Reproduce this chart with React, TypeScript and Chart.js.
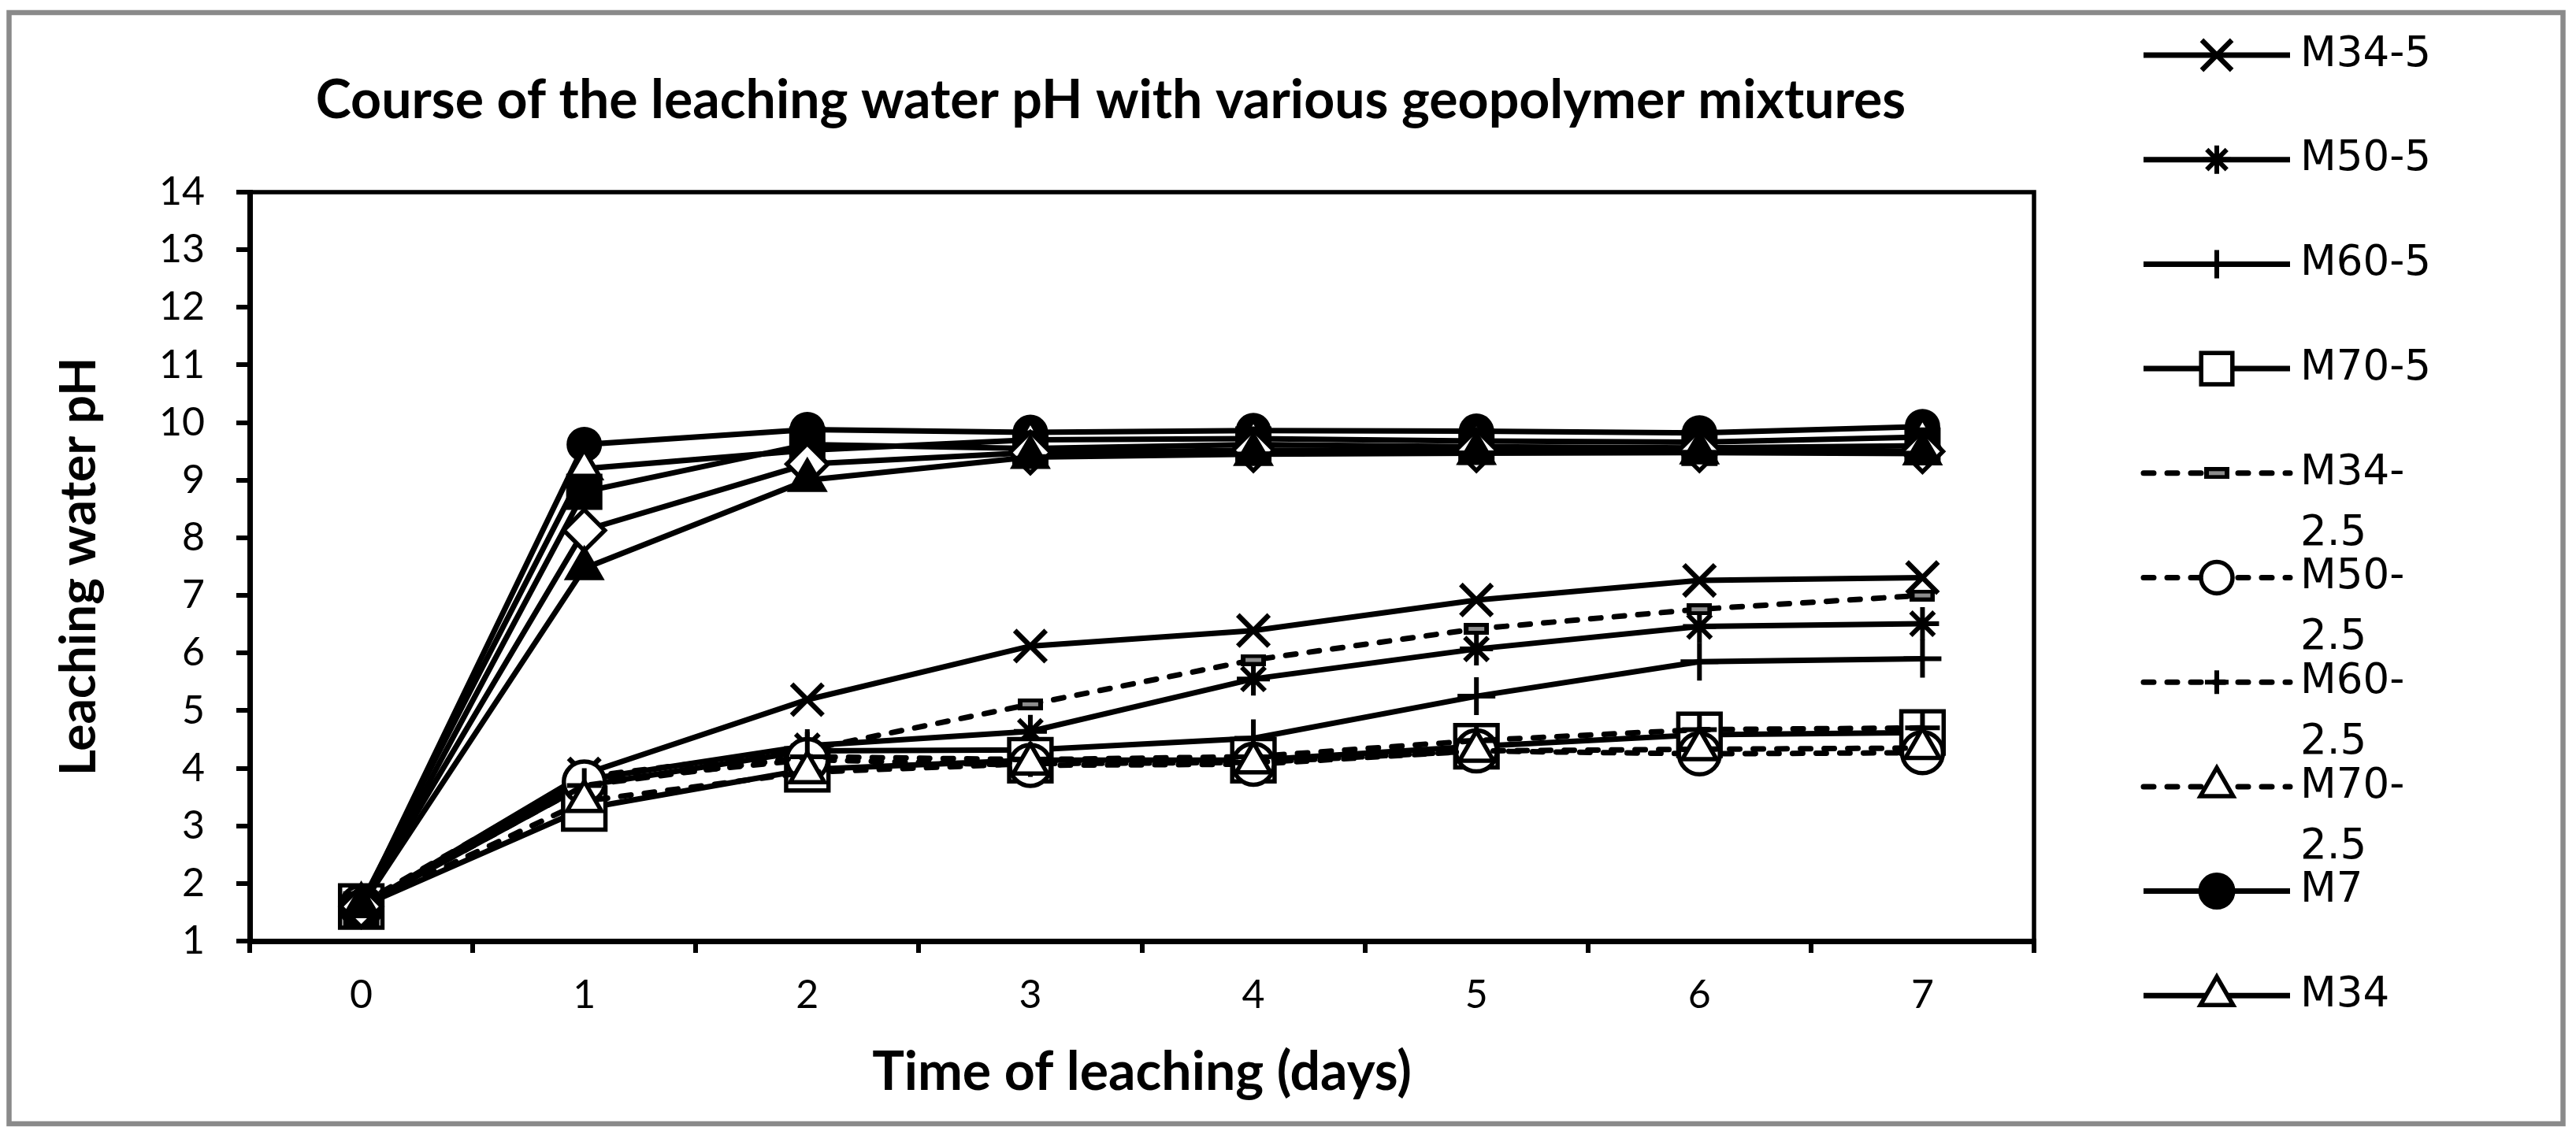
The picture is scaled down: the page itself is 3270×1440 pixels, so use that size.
import React, { useEffect, useRef } from 'react';
import { Chart, registerables } from 'chart.js';
import { drawPoint } from 'chart.js/helpers';

Chart.register(...registerables);

// ---------- data ----------
const days = ['0', '1', '2', '3', '4', '5', '6', '7'];

const m34_5 = [1.6, 3.9, 5.19, 6.12, 6.39, 6.92, 7.26, 7.31];
const m50_5 = [1.6, 3.8, 4.39, 4.64, 5.55, 6.07, 6.46, 6.51];
const m60_5 = [1.6, 3.7, 4.3, 4.32, 4.52, 5.25, 5.85, 5.9];
const m70_5 = [1.6, 3.3, 3.98, 4.14, 4.14, 4.38, 4.58, 4.62];
const m34_25 = [1.65, 3.85, 4.32, 5.11, 5.88, 6.42, 6.76, 7.0];
const m50_25 = [1.6, 3.76, 4.15, 4.05, 4.07, 4.3, 4.25, 4.27];
const m60_25 = [1.6, 3.7, 4.2, 4.15, 4.2, 4.48, 4.67, 4.7];
const m70_25 = [1.6, 3.43, 3.93, 4.08, 4.1, 4.3, 4.33, 4.35];
const m7 = [1.6, 9.62, 9.88, 9.83, 9.86, 9.85, 9.82, 9.93];
const m34 = [1.65, 9.2, 9.52, 9.7, 9.72, 9.68, 9.66, 9.75];
const m50 = [1.55, 8.8, 9.62, 9.55, 9.62, 9.58, 9.56, 9.6];
const m60 = [1.6, 8.13, 9.28, 9.48, 9.52, 9.52, 9.52, 9.5];
const m70 = [1.6, 7.47, 9.0, 9.4, 9.45, 9.47, 9.48, 9.46];

const seriesLabels = [
  'M34-5', 'M50-5', 'M60-5', 'M70-5',
  'M34-2.5', 'M50-2.5', 'M60-2.5', 'M70-2.5',
  'M7', 'M34', 'M50', 'M60', 'M70',
];
const seriesData = [m34_5, m50_5, m60_5, m70_5, m34_25, m50_25, m60_25, m70_25, m7, m34, m50, m60, m70];
const legendCount = 10; // the reference legend is cut after M34

const titleText = 'Course of the leaching water pH with various geopolymer mixtures';
const xTitle = 'Time of leaching (days)';
const yTitle = 'Leaching water pH';
const yMin = 1;
const yMax = 14;

// ---------- styles ----------
const W = 3270;
const H = 1440;
const LATO = 'Lato, "Open Sans", sans-serif';
const LEG_FONT = '"DejaVu Sans", Verdana, sans-serif';

type Marker = { style: string; r: number; lr: number; bw: number; fill: string; dashed: boolean };
const markers: Marker[] = [
  { style: 'crossRot', r: 28, lr: 27, bw: 6.5, fill: '#000', dashed: false },
  { style: 'star', r: 21, lr: 18, bw: 6, fill: '#000', dashed: false },
  { style: 'cross', r: 24, lr: 18, bw: 6, fill: '#000', dashed: false },
  { style: 'rect', r: 38, lr: 28, bw: 5.5, fill: '#fff', dashed: false },
  { style: 'dashImg', r: 16, lr: 16, bw: 5, fill: '#000', dashed: true },
  { style: 'circle', r: 26, lr: 20, bw: 5.5, fill: '#fff', dashed: true },
  { style: 'cross', r: 22, lr: 15, bw: 6, fill: '#000', dashed: true },
  { style: 'triangle', r: 25, lr: 24, bw: 5.5, fill: '#fff', dashed: true },
  { style: 'circle', r: 20, lr: 21, bw: 5, fill: '#000', dashed: false },
  { style: 'triangle', r: 24, lr: 24, bw: 5.5, fill: '#fff', dashed: false },
  { style: 'rect', r: 29, lr: 28, bw: 5, fill: '#000', dashed: false },
  { style: 'rectRot', r: 26, lr: 26, bw: 5.5, fill: '#fff', dashed: false },
  { style: 'triangle', r: 25, lr: 25, bw: 5, fill: '#000', dashed: false },
];

export default function App() {
  const ref = useRef<HTMLCanvasElement>(null);

  useEffect(() => {
    const canvas = ref.current;
    if (!canvas) return;

    // "dash" marker as in Excel: black bar with grey core
    const dashImg = document.createElement('canvas');
    dashImg.width = 32;
    dashImg.height = 15;
    const dctx = dashImg.getContext('2d')!;
    dctx.fillStyle = '#000';
    dctx.fillRect(0, 0, 32, 15);
    dctx.fillStyle = '#8c8c8c';
    dctx.fillRect(6, 5, 20, 5);

    const n = seriesLabels.length;
    const datasets = seriesLabels.map((label, i) => {
      const m = markers[i];
      return {
        label,
        data: seriesData[i],
        order: n - i, // later series drawn on top, as in the source
        borderColor: '#000',
        borderWidth: 7,
        borderDash: m.dashed ? [13, 17] : [],
        borderCapStyle: m.dashed ? 'round' : 'butt',
        pointStyle: m.style === 'dashImg' ? dashImg : m.style,
        pointRadius: m.r,
        pointHoverRadius: m.r,
        pointBackgroundColor: m.fill,
        pointBorderColor: '#000',
        pointBorderWidth: m.bw,
        legendRadius: m.lr,
        fill: false,
        tension: 0,
      };
    });

    const framePlugin = {
      id: 'frame',
      beforeDraw(chart: any) {
        const ctx = chart.ctx;
        ctx.save();
        ctx.fillStyle = '#fff';
        ctx.fillRect(0, 0, W, H);
        ctx.strokeStyle = '#8a8a8a';
        ctx.lineWidth = 6.5;
        ctx.strokeRect(11.5, 16, 3242, 1411);
        ctx.restore();
      },
      beforeDatasetsDraw(chart: any) {
        const { ctx, chartArea: a } = chart;
        ctx.save();
        ctx.strokeStyle = '#000';
        ctx.lineWidth = 5.5;
        ctx.strokeRect(a.left, a.top, a.right - a.left, a.bottom - a.top);
        ctx.restore();
      },
    };

    const textPlugin = {
      id: 'excelText',
      afterDraw(chart: any) {
        const ctx = chart.ctx;
        ctx.save();
        // title
        ctx.fillStyle = '#000';
        ctx.font = `bold 68px ${LATO}`;
        ctx.textAlign = 'center';
        ctx.textBaseline = 'alphabetic';
        ctx.fillText(titleText, 1410, 150);

        // legend
        const x0 = 2721;
        const x1 = 2907;
        const xm = 2814;
        const xt = 2920;
        const maxTextW = 200;
        ctx.font = `53px ${LEG_FONT}`;
        chart.data.datasets.slice(0, legendCount).forEach((ds: any, i: number) => {
          const y = 70 + i * 132.7;
          ctx.strokeStyle = '#000';
          ctx.lineWidth = ds.borderWidth;
          ctx.setLineDash(ds.borderDash);
          ctx.lineCap = ds.borderCapStyle;
          ctx.beginPath();
          ctx.moveTo(x0, y);
          ctx.lineTo(x1, y);
          ctx.stroke();
          ctx.setLineDash([]);
          ctx.lineCap = 'butt';

          ctx.fillStyle = ds.pointBackgroundColor;
          ctx.strokeStyle = ds.pointBorderColor;
          ctx.lineWidth = ds.pointBorderWidth;
          drawPoint(ctx, { pointStyle: ds.pointStyle, radius: ds.legendRadius, borderWidth: ds.pointBorderWidth, rotation: 0 } as any, xm, y);

          // wrap like Excel when too wide: break after hyphen
          let lines: string[] = [ds.label];
          if (ctx.measureText(ds.label).width > maxTextW && ds.label.includes('-')) {
            const k = ds.label.indexOf('-') + 1;
            lines = [ds.label.slice(0, k), ds.label.slice(k)];
          }
          ctx.fillStyle = '#000';
          ctx.textAlign = 'left';
          ctx.textBaseline = 'middle';
          lines.forEach((t, k) => ctx.fillText(t, xt, y + k * 77));
        });
        ctx.restore();
      },
    };

    const chart = new Chart(canvas, {
      type: 'line',
      data: { labels: days, datasets: datasets as any },
      options: {
        responsive: false,
        animation: false,
        devicePixelRatio: 1,
        events: [],
        layout: { padding: { left: 0, right: 688, top: 244, bottom: 0 } },
        plugins: {
          legend: { display: false },
          title: { display: false },
          tooltip: { enabled: false },
        },
        scales: {
          x: {
            type: 'category',
            offset: true,
            grid: {
              display: true,
              offset: true,
              drawOnChartArea: false,
              drawTicks: true,
              tickLength: 15,
              tickWidth: 6,
              tickColor: '#000',
              lineWidth: 6,
              color: '#000',
            },
            border: { display: true, color: '#000', width: 7 },
            ticks: {
              color: '#000',
              font: { family: LATO, size: 50 },
              padding: 24,
              maxRotation: 0,
              autoSkip: false,
            },
            title: {
              display: true,
              text: xTitle,
              color: '#000',
              font: { family: LATO, size: 68, weight: 'bold' },
              padding: { top: 0, bottom: 37 },
            },
            afterFit: (s: any) => {
              s.height = 245;
            },
          },
          y: {
            min: yMin,
            max: yMax,
            grid: {
              display: true,
              drawOnChartArea: false,
              drawTicks: true,
              tickLength: 17,
              tickWidth: 6,
              tickColor: '#000',
              lineWidth: 6,
              color: '#000',
            },
            border: { display: true, color: '#000', width: 7 },
            ticks: {
              stepSize: 1,
              color: '#000',
              font: { family: LATO, size: 50 },
              padding: 40,
            },
            title: {
              display: true,
              text: yTitle,
              color: '#000',
              font: { family: LATO, size: 64, weight: 'bold' },
              padding: { top: 62, bottom: 0 },
            },
            afterFit: (s: any) => {
              s.width = 317;
            },
          },
        },
      } as any,
      plugins: [framePlugin, textPlugin],
    });

    return () => chart.destroy();
  }, []);

  return (
    <div style={{ position: 'fixed', left: 0, top: 0, width: W, height: H, background: '#fff' }}>
      <canvas ref={ref} width={W} height={H} style={{ width: W, height: H, display: 'block' }} />
    </div>
  );
}
